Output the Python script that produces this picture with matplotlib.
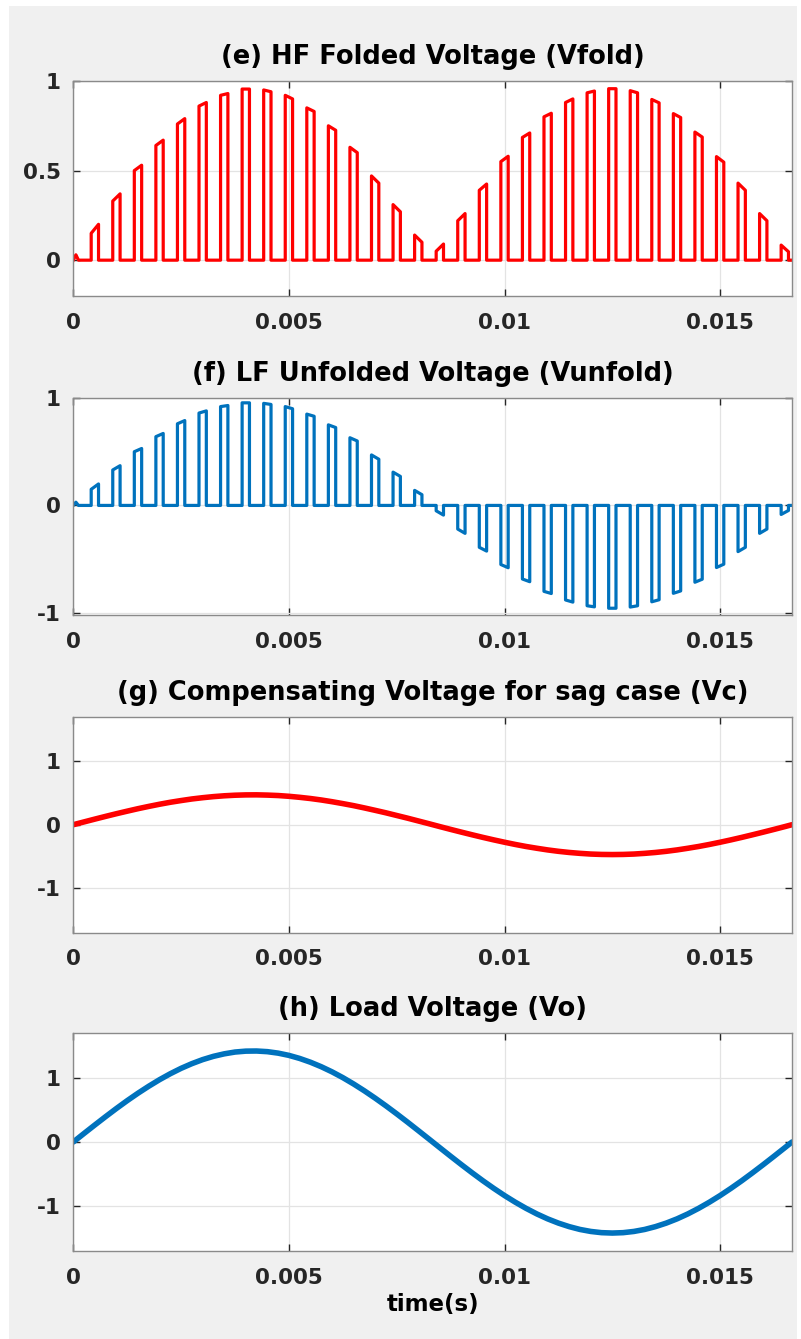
import matplotlib
matplotlib.use('Agg')
import matplotlib.pyplot as plt
from matplotlib.patches import Rectangle

plt.rcParams['font.family'] = ['DejaVu Sans']
plt.rcParams['font.weight'] = 'bold'

# ---- data ----
period = 1 / 60
pulse_t = [0.0005, 0.001, 0.0015, 0.002, 0.0025, 0.003, 0.0035, 0.004,
           0.0045, 0.005, 0.0055, 0.006, 0.0065, 0.007, 0.0075, 0.008,
           0.0085, 0.009, 0.0095, 0.01, 0.0105, 0.011, 0.0115, 0.012,
           0.0125, 0.013, 0.0135, 0.014, 0.0145, 0.015, 0.0155, 0.016, 0.0165]
# pulse top at rising edge / falling edge
pulse_hl = [0.15, 0.33, 0.50, 0.64, 0.76, 0.86, 0.92, 0.955,
            0.95, 0.92, 0.85, 0.75, 0.63, 0.47, 0.31, 0.14,
            0.05, 0.22, 0.39, 0.55, 0.685, 0.80, 0.88, 0.934,
            0.957, 0.946, 0.897, 0.818, 0.715, 0.578, 0.43, 0.26, 0.084]
pulse_hr = [0.20, 0.37, 0.53, 0.67, 0.79, 0.88, 0.93, 0.955,
            0.94, 0.90, 0.83, 0.725, 0.60, 0.43, 0.27, 0.10,
            0.09, 0.26, 0.425, 0.58, 0.71, 0.82, 0.90, 0.944,
            0.957, 0.934, 0.878, 0.796, 0.687, 0.547, 0.39, 0.22, 0.047]
pulse_w = 0.00017
lead_t = [0.0, 0.00006, 0.00012]
lead_v = [0.0, 0.03, 0.0]

# samples every 0.25 ms for the two smooth waveforms
sine_t = [i * 0.00025 for i in range(67)] + [period]
vc = [0.0, 0.044, 0.088, 0.131, 0.173, 0.213, 0.252, 0.288, 0.322, 0.353,
      0.380, 0.405, 0.425, 0.442, 0.455, 0.464, 0.469, 0.470, 0.466, 0.459,
      0.447, 0.431, 0.412, 0.389, 0.362, 0.332, 0.300, 0.264, 0.226, 0.187,
      0.145, 0.103, 0.059, 0.015, -0.030, -0.074, -0.117, -0.159, -0.200,
      -0.239, -0.276, -0.311, -0.343, -0.371, -0.397, -0.419, -0.437, -0.451,
      -0.462, -0.468, -0.470, -0.468, -0.462, -0.451, -0.437, -0.419, -0.397,
      -0.371, -0.343, -0.311, -0.276, -0.239, -0.200, -0.159, -0.117, -0.074,
      -0.030, 0.0]
vo = [0.0, 0.134, 0.266, 0.396, 0.523, 0.645, 0.761, 0.870, 0.972, 1.065,
      1.149, 1.222, 1.285, 1.336, 1.375, 1.403, 1.417, 1.419, 1.409, 1.386,
      1.351, 1.303, 1.244, 1.174, 1.094, 1.004, 0.905, 0.798, 0.684, 0.564,
      0.439, 0.310, 0.178, 0.045, -0.089, -0.222, -0.353, -0.481, -0.605,
      -0.723, -0.835, -0.939, -1.035, -1.122, -1.199, -1.265, -1.320, -1.364,
      -1.395, -1.414, -1.420, -1.414, -1.395, -1.364, -1.320, -1.265, -1.199,
      -1.122, -1.035, -0.939, -0.835, -0.723, -0.605, -0.481, -0.353, -0.222,
      -0.089, 0.0]

xticks = [0, 0.005, 0.01, 0.015]
xticklabels = ['0', '0.005', '0.01', '0.015']

titles = ['(e) HF Folded Voltage (Vfold)',
          '(f) LF Unfolded Voltage (Vunfold)',
          '(g) Compensating Voltage for sag case (Vc)',
          '(h) Load Voltage (Vo)']

RED = '#ff0000'
BLUE = '#0072bd'


def pulse_train(sign):
    t = list(lead_t)
    v = list(lead_v)
    for c, hl, hr, s in zip(pulse_t, pulse_hl, pulse_hr, sign):
        a, b = c - pulse_w / 2, c + pulse_w / 2
        t += [a, a, b, b]
        v += [0, s * hl, s * hr, 0]
    t.append(period)
    v.append(0)
    return t, v


fold_sign = [1] * len(pulse_t)
unfold_sign = [1 if tc < period / 2 else -1 for tc in pulse_t]

fig = plt.figure(figsize=(8.01, 13.39), dpi=100, facecolor='white')
fig.add_artist(Rectangle((9 / 801, 0), 788 / 801, 1333 / 1339,
                         transform=fig.transFigure, facecolor='#f0f0f0',
                         edgecolor='none', zorder=0))

left, width = 73.3 / 801, 718.7 / 801
tops = [81, 398, 716.7, 1033]
bots = [296, 615, 932.7, 1251]

axes = []
for top, bot in zip(tops, bots):
    ax = fig.add_axes([left, 1 - bot / 1339, width, (bot - top) / 1339])
    axes.append(ax)

t1, v1 = pulse_train(fold_sign)
axes[0].plot(t1, v1, color=RED, lw=2.3, solid_joinstyle='round')
axes[0].set_ylim(-0.2, 1)
axes[0].set_yticks([0, 0.5, 1])
axes[0].set_yticklabels(['0', '0.5', '1'])

t2, v2 = pulse_train(unfold_sign)
axes[1].plot(t2, v2, color=BLUE, lw=2.3, solid_joinstyle='round')
axes[1].set_ylim(-1.02, 1)
axes[1].set_yticks([-1, 0, 1])
axes[1].set_yticklabels(['-1', '0', '1'])

axes[2].plot(sine_t, vc, color=RED, lw=4, solid_capstyle='round')
axes[3].plot(sine_t, vo, color=BLUE, lw=4, solid_capstyle='round')
for ax in axes[2:]:
    ax.set_ylim(-1.7, 1.7)
    ax.set_yticks([-1, 0, 1])
    ax.set_yticklabels(['-1', '0', '1'])

for ax, title in zip(axes, titles):
    ax.set_facecolor('white')
    ax.set_xlim(0, period)
    ax.set_xticks(xticks)
    ax.set_xticklabels(xticklabels)
    ax.set_title(title, fontsize=18.5, fontweight='bold', pad=12)
    ax.grid(True, color='#e3e3e3', lw=0.9)
    ax.set_axisbelow(True)
    for s in ax.spines.values():
        s.set_color('#8a8a8a')
        s.set_linewidth(1.0)
    ax.tick_params(axis='both', direction='in', length=5, width=1,
                   color='#262626', labelsize=15.5, labelcolor='#262626',
                   top=True, right=True)
    ax.tick_params(axis='x', pad=12)
    ax.tick_params(axis='y', pad=9)
    for lab in ax.get_xticklabels() + ax.get_yticklabels():
        lab.set_fontweight('bold')

axes[3].set_xlabel('time(s)', fontsize=16.5, fontweight='bold', labelpad=4)

fig.savefig('out.png', dpi=100, facecolor=fig.get_facecolor())
